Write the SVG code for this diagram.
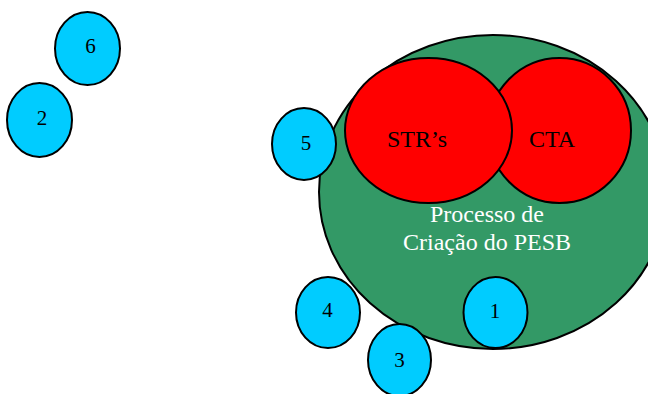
<svg xmlns="http://www.w3.org/2000/svg" width="648" height="394" viewBox="0 0 648 394">
<style>
.n{stroke:#000;stroke-width:2}
.b{fill:#00CCFF}
.r{fill:#FF0000}
.g{fill:#339966}
text{font-family:"Liberation Serif","Times New Roman",serif;text-anchor:middle}
.num{font-size:21px;fill:#000}
.lbl{font-size:24px;fill:#000}
.w{font-size:24px;fill:#fff}
</style>
<rect width="648" height="394" fill="#fff"/>
<g id="connectors"></g>
<g id="pesb">
<ellipse class="n g" cx="493" cy="192" rx="174" ry="157"/>
<text class="w" x="487" y="222">Processo de</text>
<text class="w" x="487" y="250">Criação do PESB</text>
</g>
<g id="cta">
<ellipse class="n r" cx="559.5" cy="130.5" rx="71.5" ry="72.5"/>
<text class="lbl" x="552" y="147">CTA</text>
</g>
<g id="strs">
<ellipse class="n r" cx="428.5" cy="130.5" rx="83.5" ry="72.5"/>
<text class="lbl" x="417" y="147">STR’s</text>
</g>
<g id="n6"><ellipse class="n b" cx="87.5" cy="48.5" rx="32.5" ry="36.5"/><text class="num" x="90.5" y="53">6</text></g>
<g id="n2"><ellipse class="n b" cx="39.5" cy="120" rx="32.5" ry="37"/><text class="num" x="42" y="125">2</text></g>
<g id="n5"><ellipse class="n b" cx="304" cy="144" rx="32" ry="36"/><text class="num" x="306" y="150">5</text></g>
<g id="n4"><ellipse class="n b" cx="328" cy="312.5" rx="32" ry="35.5"/><text class="num" x="327.5" y="317">4</text></g>
<g id="n3"><ellipse class="n b" cx="399.5" cy="360" rx="31.5" ry="36"/><text class="num" x="399.5" y="367">3</text></g>
<g id="n1"><ellipse class="n b" cx="495.5" cy="312.5" rx="32" ry="35.5"/><text class="num" x="495" y="318">1</text></g>
</svg>
